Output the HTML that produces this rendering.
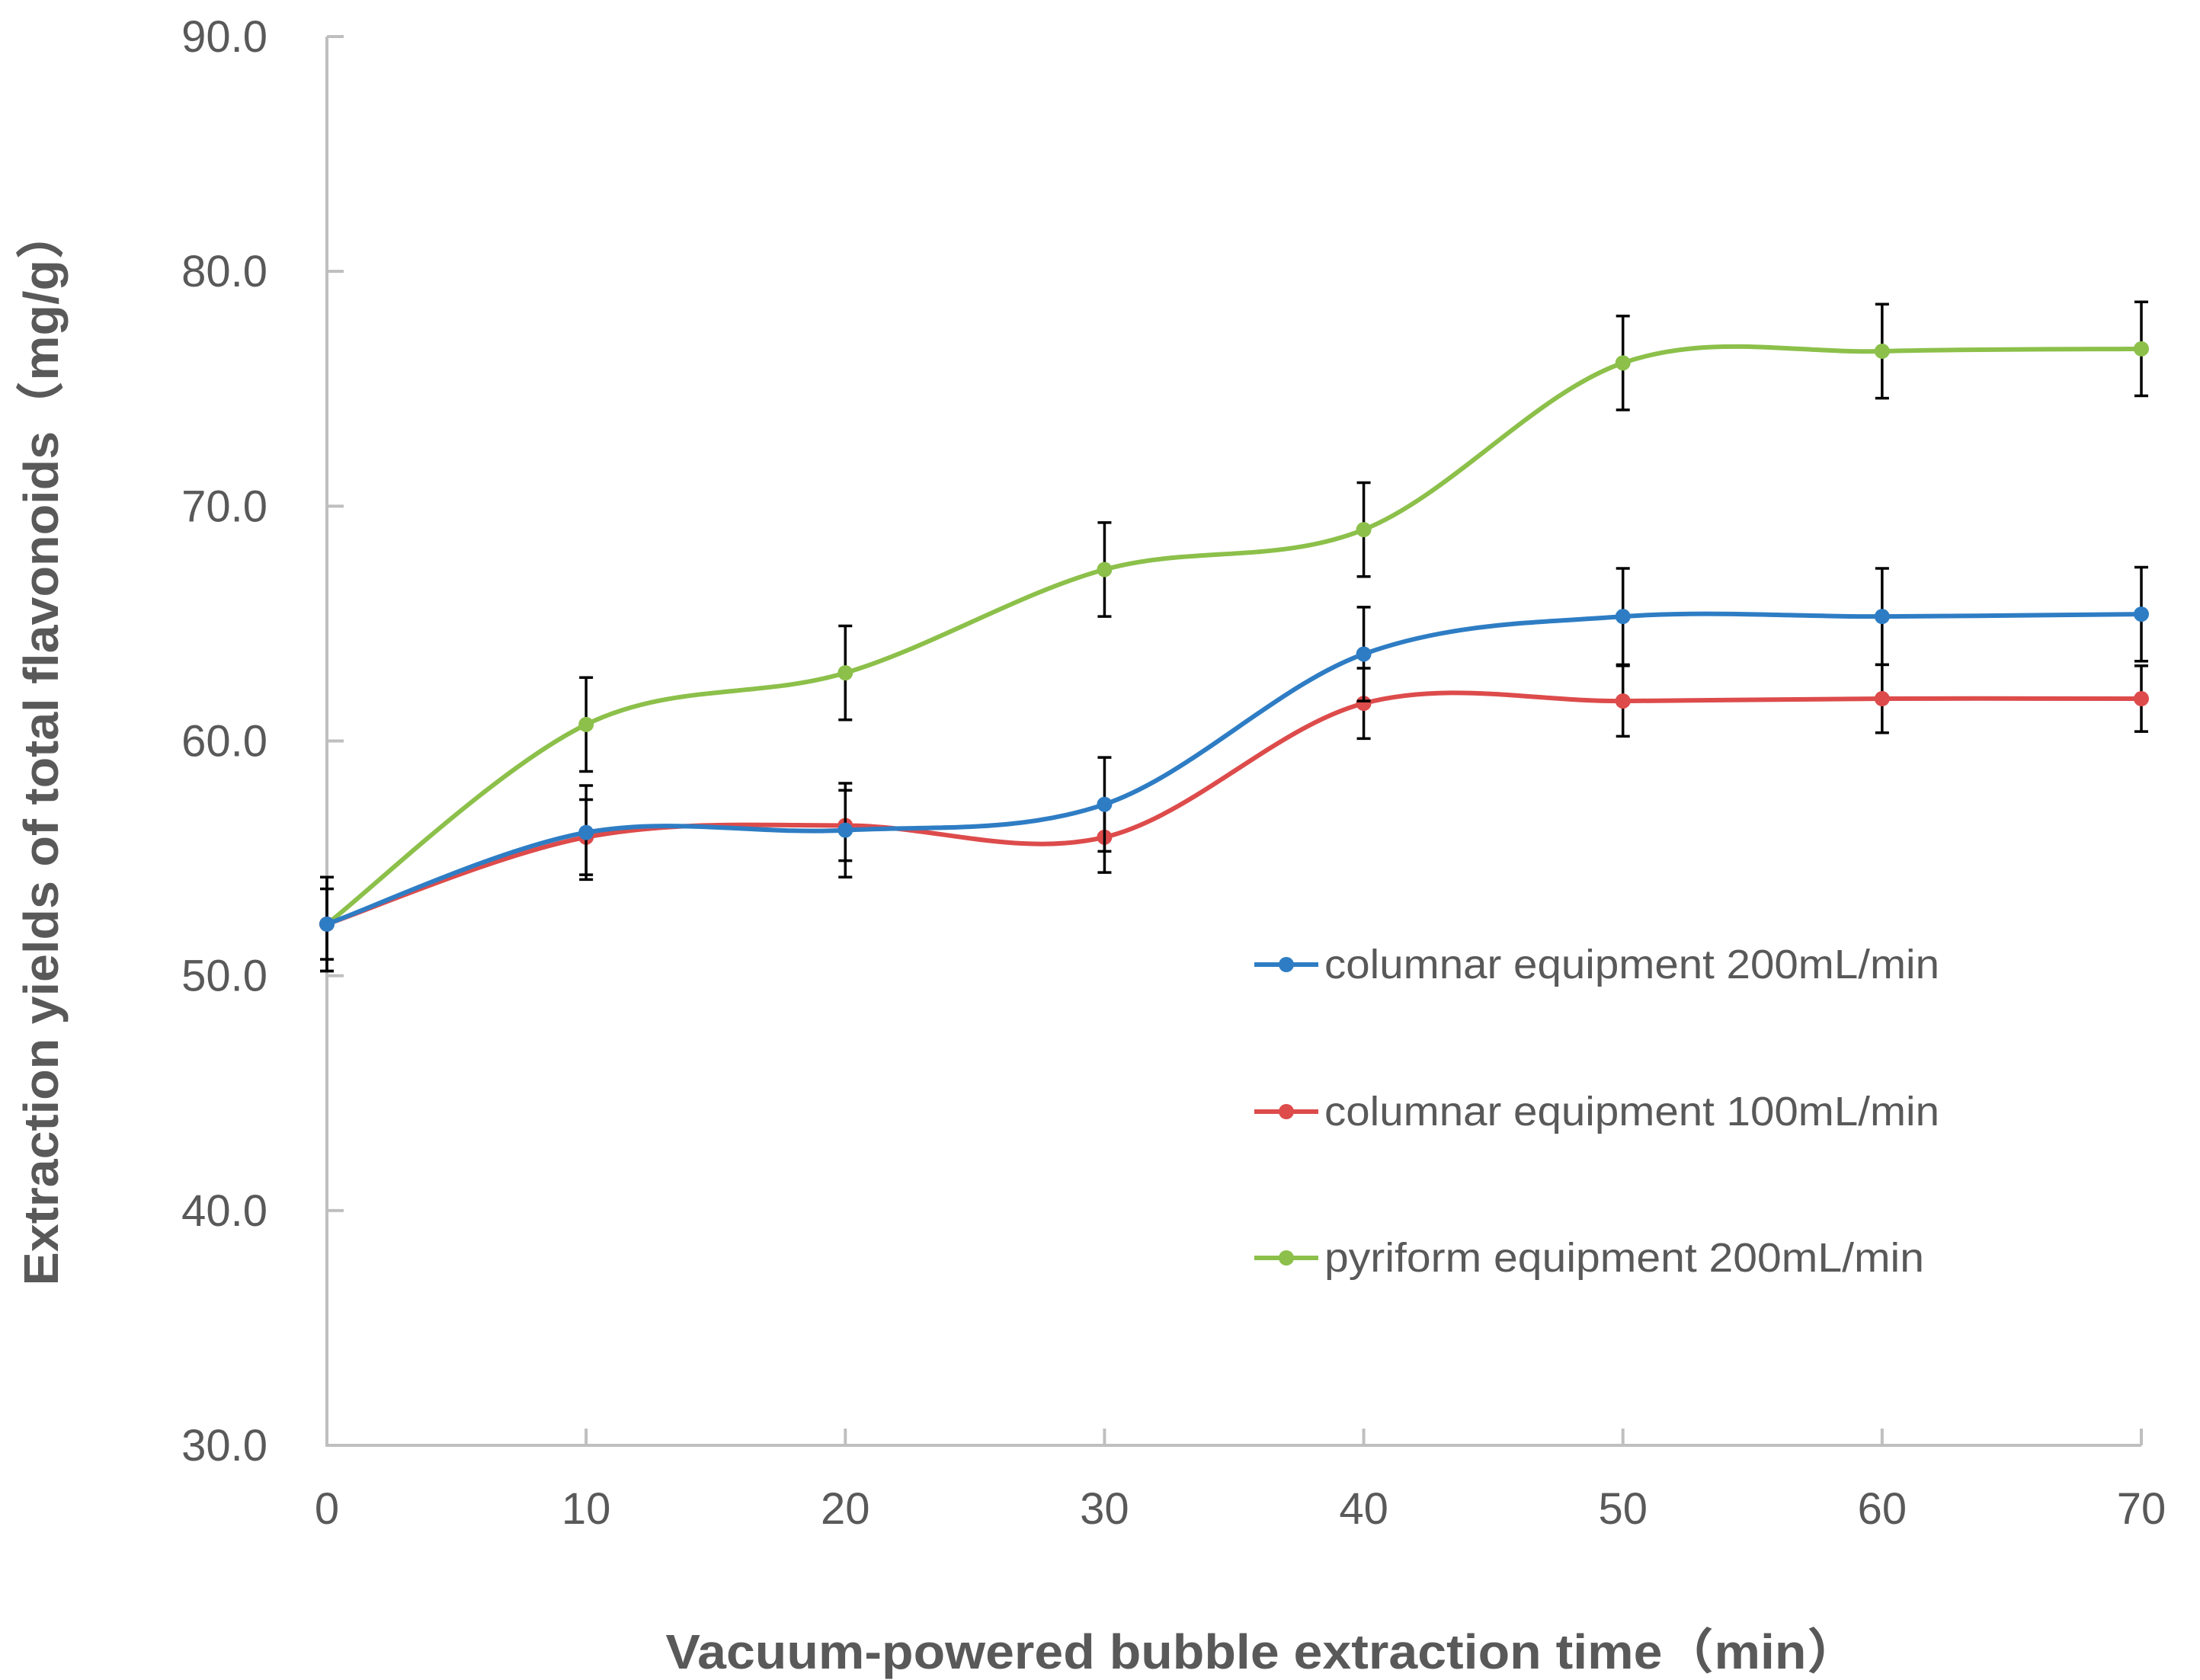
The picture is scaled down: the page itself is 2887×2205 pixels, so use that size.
<!DOCTYPE html>
<html><head><meta charset="utf-8"><style>
html,body{margin:0;padding:0;background:#fff;}
svg{display:block;}
</style></head><body>
<svg id="chart" width="2887" height="2205" viewBox="0 0 2887 2205" xmlns="http://www.w3.org/2000/svg" font-family="'Liberation Sans', 'Noto Sans CJK SC', sans-serif">
<rect width="2887" height="2205" fill="#fff"/>
<g id="axes"></g>
<g id="series"></g>
<g id="legend"></g>
<text transform="translate(76,981) rotate(-90)" text-anchor="middle" font-size="64" font-weight="bold" fill="#595959" textLength="1413" lengthAdjust="spacingAndGlyphs">Extraction yields of total flavonoids（mg/g）</text>
<text x="1656" y="2190" text-anchor="middle" font-size="64" font-weight="bold" fill="#595959" textLength="1565" lengthAdjust="spacingAndGlyphs">Vacuum-powered bubble extraction time（min）</text>
</svg>
<script>
const categories = [0, 10, 20, 30, 40, 50, 60, 70];
const blueValues = [52.2, 56.1, 56.2, 57.3, 63.7, 65.3, 65.3, 65.4];
const redValues = [52.2, 55.9, 56.4, 55.9, 61.6, 61.7, 61.8, 61.8];
const greenValues = [52.2, 60.7, 62.9, 67.3, 69.0, 76.1, 76.6, 76.7];
const blueErr = [2.0, 2.0, 2.0, 2.0, 2.0, 2.05, 2.05, 2.0];
const redErr = [1.5, 1.6, 1.5, 1.5, 1.5, 1.5, 1.45, 1.4];
const greenErr = [2.0, 2.0, 2.0, 2.0, 2.0, 2.0, 2.0, 2.0];
const yTicks = [30, 40, 50, 60, 70, 80, 90];
const yTickLabels = ["30.0", "40.0", "50.0", "60.0", "70.0", "80.0", "90.0"];
const xTickLabels = ["0", "10", "20", "30", "40", "50", "60", "70"];
const seriesNames = ["columnar equipment 200mL/min", "columnar equipment 100mL/min", "pyriform equipment 200mL/min"];

const NS = "http://www.w3.org/2000/svg";
const X0 = 429, X1 = 2810, Y0 = 1897, Y1 = 48;
function xs(v){ return X0 + (v - 0) / 70 * (X1 - X0); }
function ys(v){ return Y0 - (v - 30) / 60 * (Y0 - Y1); }
function mk(tag, attrs, parent){
  const e = document.createElementNS(NS, tag);
  for (const k in attrs) e.setAttribute(k, attrs[k]);
  parent.appendChild(e);
  return e;
}
const axes = document.getElementById('axes');
let el = mk('path', {d:`M${X0},${Y1} L${X0},${Y0} L${X1},${Y0}`, fill:'none', stroke:'#bfbfbf', 'stroke-width':4}, axes);


yTicks.forEach((t, i) => {
  const y = ys(t);
  let tk = mk('line', {x1:X0, x2:X0+22, y1:y, y2:y, stroke:'#bfbfbf', 'stroke-width':4}, axes);
  
  
  let lb = mk('text', {x:351, y:y+20, 'text-anchor':'end', 'font-size':58, fill:'#595959'}, axes);
  lb.textContent = yTickLabels[i];
  
  
});
categories.forEach((c, i) => {
  const x = xs(c);
  let tk = mk('line', {x1:x, x2:x, y1:Y0, y2:Y0-22, stroke:'#bfbfbf', 'stroke-width':4}, axes);
  
  
  let lb = mk('text', {x:x, y:2000, 'text-anchor':'middle', 'font-size':58, fill:'#595959'}, axes);
  lb.textContent = xTickLabels[i];
  
  
});

function smoothPath(pts){
  let d = `M${pts[0][0]},${pts[0][1]}`;
  for (let i = 0; i < pts.length - 1; i++){
    const p0 = pts[Math.max(0, i-1)], p1 = pts[i], p2 = pts[i+1], p3 = pts[Math.min(pts.length-1, i+2)];
    const t = 1/6;
    const c1 = [p1[0] + (p2[0]-p0[0])*t, p1[1] + (p2[1]-p0[1])*t];
    const c2 = [p2[0] - (p3[0]-p1[0])*t, p2[1] - (p3[1]-p1[1])*t];
    d += ` C${c1[0]},${c1[1]} ${c2[0]},${c2[1]} ${p2[0]},${p2[1]}`;
  }
  return d;
}
const series = document.getElementById('series');
const defs = [
  {vals: blueValues, err: blueErr, color:'#2e7dc4', key:'blue'},
  {vals: redValues, err: redErr, color:'#dd4b4b', key:'red'},
  {vals: greenValues, err: greenErr, color:'#8cc04a', key:'green'}
];
defs.slice().reverse().forEach(s => {
  const g = mk('g', {}, series);
  
  
  const pts = categories.map((c, i) => [xs(c), ys(s.vals[i])]);
  let p = mk('path', {d: smoothPath(pts), fill:'none', stroke:s.color, 'stroke-width':6}, g);
  
  
  categories.forEach((c, i) => {
    const x = xs(c), yt = ys(s.vals[i] + s.err[i]), yb = ys(s.vals[i] - s.err[i]);
    let e = mk('path', {d:`M${x},${yt} L${x},${yb} M${x-9},${yt} L${x+9},${yt} M${x-9},${yb} L${x+9},${yb}`, stroke:'#000', 'stroke-width':3.5, fill:'none'}, g);
    
    
  });
  categories.forEach((c, i) => {
    let m = mk('circle', {cx:xs(c), cy:ys(s.vals[i]), r:10, fill:s.color}, g);
    
    
  });
});

const legend = document.getElementById('legend');
const legendY = [1266, 1459, 1651];
defs.forEach((s, i) => {
  const g = mk('g', {}, legend);
  
  
  const y = legendY[i];
  mk('line', {x1:1646, x2:1730, y1:y, y2:y, stroke:s.color, 'stroke-width':6}, g);
  mk('circle', {cx:1688, cy:y, r:10, fill:s.color}, g);
  const t = mk('text', {x:1738, y:y+18, 'font-size':54, fill:'#595959', textLength: i === 2 ? 787 : 807, lengthAdjust:'spacingAndGlyphs'}, g);
  t.textContent = seriesNames[i];
});
</script>
</body></html>
